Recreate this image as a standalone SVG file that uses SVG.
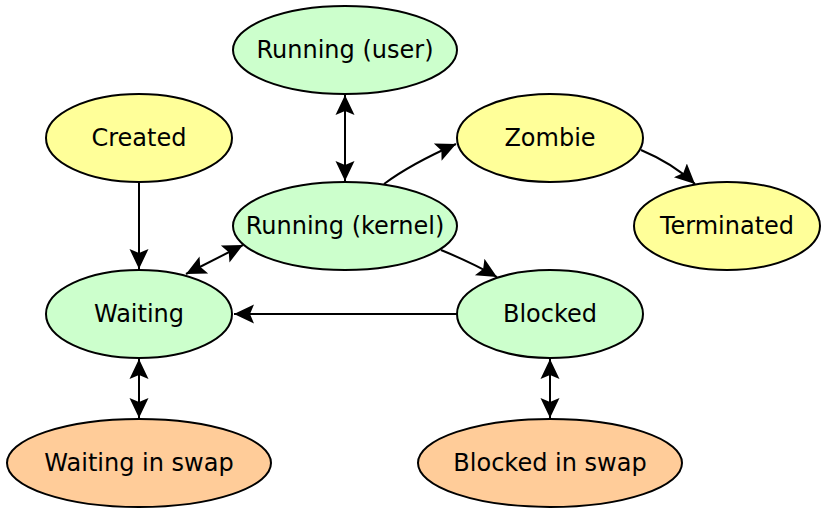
<svg xmlns="http://www.w3.org/2000/svg" width="826" height="508" viewBox="0 0 826 508">
<style>
.n ellipse{stroke:#000;stroke-width:2}
.y{fill:#ffff99}
.g{fill:#ccffcc}
.o{fill:#ffcc99}
.n text{font-family:"DejaVu Sans",sans-serif;font-size:24px;fill:#000;text-anchor:middle}
#edges path{fill:none;stroke:#000;stroke-width:2}
.e{marker-end:url(#ah)}
.b{marker-end:url(#ah);marker-start:url(#ah)}
</style>
<defs>
<marker id="ah" markerUnits="userSpaceOnUse" markerWidth="22" markerHeight="22" viewBox="0 -11 22 22" refX="20" refY="0" orient="auto-start-reverse">
<path d="M0,-9.5 L20,0 L0,9.5 L4,0 z" fill="#000"/>
</marker>
</defs>
<rect width="826" height="508" fill="#fff"/>
<g id="edges">
<path class="b" d="M345,95 L345,181"/>
<path class="e" d="M139,182 L139,269"/>
<path class="b" d="M243,245 L186,274"/>
<path class="e" d="M384,184 C400,172 420,160 456,144"/>
<path class="e" d="M441,250 C458,257 478,266 497,277"/>
<path class="e" d="M641,150 C660,158 680,170 695,184"/>
<path class="e" d="M457,314 L234,314"/>
<path class="b" d="M139,359 L139,418"/>
<path class="b" d="M550,359 L550,418"/>
</g>
<g id="running_user" class="n"><ellipse class="g" cx="345" cy="50" rx="112" ry="44"/><text x="345" y="58">Running (user)</text></g>
<g id="created" class="n"><ellipse class="y" cx="139" cy="138" rx="93" ry="44"/><text x="139" y="146">Created</text></g>
<g id="zombie" class="n"><ellipse class="y" cx="550" cy="138" rx="93" ry="44"/><text x="550" y="146">Zombie</text></g>
<g id="running_kernel" class="n"><ellipse class="g" cx="345" cy="226" rx="112" ry="44"/><text x="345" y="234">Running (kernel)</text></g>
<g id="terminated" class="n"><ellipse class="y" cx="727" cy="226" rx="93" ry="44"/><text x="727" y="234">Terminated</text></g>
<g id="waiting" class="n"><ellipse class="g" cx="139" cy="314" rx="93" ry="44"/><text x="139" y="322">Waiting</text></g>
<g id="blocked" class="n"><ellipse class="g" cx="550" cy="314" rx="93" ry="44"/><text x="550" y="322">Blocked</text></g>
<g id="waiting_swap" class="n"><ellipse class="o" cx="139" cy="463" rx="132" ry="44"/><text x="139" y="471">Waiting in swap</text></g>
<g id="blocked_swap" class="n"><ellipse class="o" cx="550" cy="463" rx="132" ry="44"/><text x="550" y="471">Blocked in swap</text></g>
</svg>
